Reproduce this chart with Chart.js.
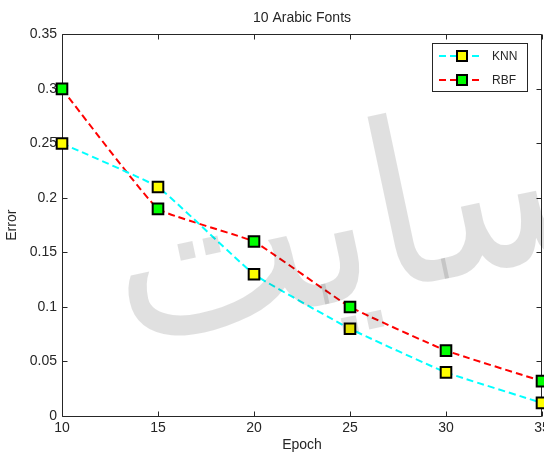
<!DOCTYPE html>
<html lang="en">
<head>
<meta charset="UTF-8">
<title>10 Arabic Fonts</title>
<script src="https://cdn.jsdelivr.net/npm/chart.js"></script>
<style>
  body { margin: 0; background: #fff; }
</style>
</head>
<body>
<canvas id="errChart" width="544" height="459"></canvas>
<script>
// error per epoch for the two classifiers
const epochs = [10, 15, 20, 25, 30, 35];
const knnError = [0.25, 0.21, 0.13, 0.08, 0.04, 0.012];
const rbfError = [0.30, 0.19, 0.16, 0.10, 0.06, 0.032];
const seriesNames = ['KNN', 'RBF'];
const xTicks = [10, 15, 20, 25, 30, 35];
const yTicks = [0, 0.05, 0.1, 0.15, 0.2, 0.25, 0.3, 0.35];

const FONT = "'Liberation Sans', Arial, sans-serif";
const INK = '#262626';

function toPoints(ys) {
    return epochs.map((e, i) => ({ x: e, y: ys[i] }));
}

// axes box with inward ticks on all four sides, plus the epoch labels
// (drawn here so the last one may run off the canvas edge)
const boxPlugin = {
    id: 'axesBox',
    beforeDatasetsDraw(chart) {
        const { ctx, chartArea: a, scales } = chart;
        const L = Math.floor(a.left) + 0.5, R = Math.floor(a.right) - 0.5;
        const T = Math.floor(a.top) + 0.5, B = Math.floor(a.bottom) + 0.5;
        ctx.save();
        ctx.strokeStyle = INK;
        ctx.lineWidth = 1;
        ctx.beginPath();
        ctx.rect(L, T, R - L, B - T);
        xTicks.forEach(v => {
            const px = Math.round(scales.x.getPixelForValue(v)) + 0.5;
            ctx.moveTo(px, B); ctx.lineTo(px, B - 5);
            ctx.moveTo(px, T); ctx.lineTo(px, T + 5);
        });
        yTicks.forEach(v => {
            const py = Math.round(scales.y.getPixelForValue(v)) + 0.5;
            ctx.moveTo(L, py); ctx.lineTo(L + 5, py);
            ctx.moveTo(R, py); ctx.lineTo(R - 5, py);
        });
        ctx.stroke();

        ctx.fillStyle = INK;
        ctx.font = '14px ' + FONT;
        ctx.textAlign = 'center';
        ctx.textBaseline = 'middle';
        xTicks.forEach(v => {
            ctx.fillText(String(v), scales.x.getPixelForValue(v), a.bottom + 12);
        });
        ctx.restore();
    }
};

// legend box in the upper right corner, line + marker + name
const legendPlugin = {
    id: 'boxLegend',
    afterDatasetsDraw(chart) {
        const { ctx } = chart;
        const bx = 432.5, by = 43.5, bw = 95, bh = 48;
        ctx.save();
        ctx.fillStyle = '#fff';
        ctx.strokeStyle = INK;
        ctx.lineWidth = 1;
        ctx.fillRect(bx, by, bw, bh);
        ctx.strokeRect(bx, by, bw, bh);
        chart.data.datasets.forEach((ds, i) => {
            const ry = 56 + i * 24;
            ctx.strokeStyle = ds.borderColor;
            ctx.lineWidth = ds.borderWidth;
            ctx.setLineDash(ds.borderDash);
            ctx.beginPath();
            ctx.moveTo(439, ry);
            ctx.lineTo(481, ry);
            ctx.stroke();
            ctx.setLineDash([]);
            ctx.fillStyle = ds.pointBackgroundColor;
            ctx.fillRect(457, ry - 5, 10, 10);
            ctx.strokeStyle = '#000';
            ctx.lineWidth = 2;
            ctx.strokeRect(457, ry - 5, 10, 10);
            ctx.fillStyle = INK;
            ctx.font = '12px ' + FONT;
            ctx.textAlign = 'left';
            ctx.textBaseline = 'middle';
            ctx.fillText(ds.label, 492, ry + 1);
        });
        ctx.restore();
    }
};

// faint site watermark over the plot
const watermarkPlugin = {
    id: 'watermark',
    afterDraw(chart) {
        const { ctx } = chart;
        ctx.save();
        ctx.translate(360, 236);
        ctx.rotate(-12 * Math.PI / 180);
        ctx.scale(1.05, 1.15);
        ctx.fillStyle = 'rgba(0, 0, 0, 0.12)';
        ctx.font = "200px 'DejaVu Sans'";
        ctx.textAlign = 'center';
        ctx.textBaseline = 'middle';
        ctx.direction = 'rtl';
        ctx.fillText('سایت', 0, 0);
        ctx.restore();
    }
};

const ctx = document.getElementById('errChart').getContext('2d');
new Chart(ctx, {
    type: 'line',
    data: {
        datasets: [
            {
                label: seriesNames[0],
                data: toPoints(knnError),
                borderColor: '#00ffff',
                borderWidth: 2,
                borderDash: [7, 4],
                tension: 0.1,
                pointStyle: 'rect',
                pointRadius: 7.5,
                pointBorderWidth: 2,
                pointBorderColor: '#000',
                pointBackgroundColor: '#ffff00',
                clip: false
            },
            {
                label: seriesNames[1],
                data: toPoints(rbfError),
                borderColor: '#ff0000',
                borderWidth: 2,
                borderDash: [7, 4],
                tension: 0.1,
                pointStyle: 'rect',
                pointRadius: 7.5,
                pointBorderWidth: 2,
                pointBorderColor: '#000',
                pointBackgroundColor: '#00ff00',
                clip: false
            }
        ]
    },
    options: {
        responsive: false,
        animation: false,
        layout: { autoPadding: false, padding: { left: 0, right: 2, top: 0, bottom: 0 } },
        plugins: {
            legend: { display: false },
            tooltip: { enabled: false },
            title: {
                display: true,
                text: '10 Arabic Fonts',
                fullSize: false,
                color: INK,
                font: { family: FONT, size: 14, weight: 'normal', lineHeight: 1.2 },
                padding: { top: 10, bottom: 7.6 }
            }
        },
        scales: {
            x: {
                type: 'linear',
                min: 10,
                max: 35,
                afterBuildTicks: s => { s.ticks = xTicks.map(v => ({ value: v })); },
                afterFit: s => { s.height = 43; },
                grid: { display: false, drawTicks: false },
                border: { display: false },
                ticks: { display: false },
                title: {
                    display: true,
                    text: 'Epoch',
                    color: INK,
                    font: { family: FONT, size: 14, lineHeight: 1.2 },
                    padding: { top: 0, bottom: 5.6 }
                }
            },
            y: {
                min: 0,
                max: 0.35,
                afterBuildTicks: s => { s.ticks = yTicks.map(v => ({ value: v })); },
                afterFit: s => { s.width = 62; s.paddingTop = 0; s.paddingBottom = 0; },
                grid: { display: false, drawTicks: false },
                border: { display: false },
                ticks: {
                    color: INK,
                    padding: 5,
                    autoSkip: false,
                    font: { family: FONT, size: 14 },
                    callback: v => String(v)
                },
                title: {
                    display: true,
                    text: 'Error',
                    color: INK,
                    font: { family: FONT, size: 14, lineHeight: 1.2 },
                    padding: { top: 4, bottom: 0 }
                }
            }
        }
    },
    plugins: [boxPlugin, legendPlugin, watermarkPlugin]
});
</script>
</body>
</html>
